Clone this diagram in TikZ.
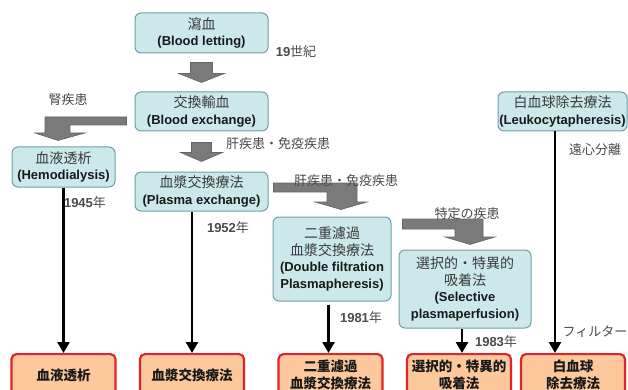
\documentclass[tikz,border=0pt]{standalone}
\usepackage{fontspec}
\setmainfont{Liberation Sans}
\newfontfamily\jp{Noto Sans CJK JP}
\usetikzlibrary{arrows.meta,calc}
\definecolor{boxfill}{HTML}{CCE8EB}
\definecolor{boxedge}{HTML}{6E9FA6}
\definecolor{orgfill}{HTML}{FCC89C}
\definecolor{orgedge}{HTML}{E2232A}
\definecolor{lblgray}{HTML}{4A4A4A}
\definecolor{jpgray}{HTML}{3A3A3A}
\definecolor{blkgray}{HTML}{7A7A7A}
\definecolor{blkedge}{HTML}{666666}
\tikzset{
 bluebox/.style={draw=boxedge, fill=boxfill, rounded corners=6pt, line width=1pt, align=center, inner sep=1pt, text=black!90, font=\fontsize{13}{16.5}\selectfont},
 orangebox/.style={draw=orgedge, fill=orgfill, rounded corners=5pt, line width=2.2pt, align=center, minimum width=104pt, minimum height=42pt, anchor=north, text=black!90, font=\jp\bfseries\fontsize{13.5}{16.5}\selectfont},
 lbl/.style={text=lblgray, font=\fontsize{13}{15}\selectfont, inner sep=0pt},
 arr/.style={line width=2.6pt, -{Triangle[width=12pt,length=11pt]}},
 blk/.style={fill=blkgray, draw=blkedge, line width=0.6pt},
}
\newcommand{\jt}[1]{{\jp\color{jpgray}\fontsize{14}{16.5}\selectfont #1}}
\begin{document}
\begin{tikzpicture}[x=1pt,y=-1pt]
\useasboundingbox (0,0) rectangle (628,390);
\clip (0,0) rectangle (628,390);

% blue boxes
\node[bluebox, minimum width=133pt, minimum height=40pt] (bl) at (201.5,33) {\jt{瀉血}\\\textbf{(Blood letting)}};
\node[bluebox, minimum width=133pt, minimum height=39pt] (be) at (201.5,111.5) {\jt{交換輸血}\\\textbf{(Blood exchange)}};
\node[bluebox, minimum width=103pt, minimum height=40pt] (hd) at (63.5,167) {\jt{血液透析}\\\textbf{(Hemodialysis)}};
\node[bluebox, minimum width=133pt, minimum height=39pt] (pe) at (201.5,191.5) {\jt{血漿交換療法}\\\textbf{(Plasma exchange)}};
\node[bluebox, minimum width=118pt, minimum height=84pt] (df) at (332,259) {\jt{二重濾過}\\\jt{血漿交換療法}\\\textbf{(Double filtration}\\\textbf{Plasmapheresis)}};
\node[bluebox, minimum width=132pt, minimum height=78pt] (sp) at (465,289) {\jt{選択的・特異的}\\\jt{吸着法}\\\textbf{(Selective}\\\textbf{plasmaperfusion)}};
\node[bluebox, minimum width=129pt, minimum height=39pt] (lk) at (562.5,111.5) {\jt{白血球除去療法}\\\textbf{(Leukocytapheresis)}};

% orange boxes
\node[orangebox] (o1) at (63.5,353) {血液透析};
\node[orangebox] (o2) at (192,353) {血漿交換療法};
\node[orangebox] (o3) at (330.5,353) {二重濾過\\血漿交換療法};
\node[orangebox] (o4) at (459,353) {選択的・特異的\\吸着法};
\node[orangebox] (o5) at (573,353) {白血球\\除去療法};

% block arrows
\fill[blk] ($(bl.south)+(-11,9)$) -- ++(22,0) -- ++(0,11) -- ++(12,0) -- ($(be.north)+(0,-9)$) -- ($(bl.south)+(-23,20)$) -- ++(12,0) -- cycle;
\fill[blk] ($(be.south)+(-10,11)$) -- ++(20,0) -- ++(0,10) -- ++(11,0) -- ($(pe.north)+(0,-10)$) -- ($(be.south)+(-21,21)$) -- ++(11,0) -- cycle;
\fill[blk] ($(be.west)+(-8,5.5)$) -- (45,117) -- (45,133) -- (35,133) -- ($(hd.north)+(-5.5,-6)$) -- (85,133) -- (70,133) -- (70,125) -- ($(be.west)+(-8,13.5)$) -- cycle;
\fill[blk] ($(pe.east)+(5,-8.5)$) -- (357,183) -- (357,202) -- (367,202) -- ($(df.north)+(9,-7)$) -- (315,202) -- (327,202) -- (327,192) -- ($(pe.east)+(5,0.5)$) -- cycle;
\fill[blk] ($(df.east)+(11,-40)$) -- (483,219) -- (483,237) -- (495,237) -- ($(sp.north)+(5,-5)$) -- (445,237) -- (455,237) -- (455,229) -- ($(df.east)+(11,-30)$) -- cycle;

% line arrows
\draw[arr] (hd.south) -- (o1.north);
\draw[arr] (o2.north |- pe.south) -- (o2.north);
\coordinate (a3) at ([xshift=-2pt]o3.north);
\draw[arr] ([yshift=-3pt]a3 |- df.south) -- (a3);
\coordinate (a4) at ([xshift=3pt]o4.north);
\draw[arr] (a4 |- sp.south) -- (a4);
\coordinate (a5) at ([xshift=-18pt]o5.north);
\draw[arr] (a5 |- lk.south) -- (a5);

% labels
\node[lbl] (t19) at (296,52) {\textbf{19}{\jp 世紀}};
\node[lbl] (tk) at (68,100) {\jp 腎疾患};
\node[lbl] (tl1) at (278,144) {\jp 肝疾患・免疫疾患};
\node[lbl] (tl2) at (346,181) {\jp 肝疾患・免疫疾患};
\node[lbl] (tt) at (467,214) {\jp 特定の疾患};
\node[lbl] (y45) at (85,203) {\textbf{1945}{\jp 年}};
\node[lbl] (y52) at (228,228) {\textbf{1952}{\jp 年}};
\node[lbl] (y81) at (361,318) {\textbf{1981}{\jp 年}};
\node[lbl] (y83) at (496,342) {\textbf{1983}{\jp 年}};
\node[lbl] (ts) at (595,150) {\jp 遠心分離};
\node[lbl] (tf) at (595,332) {\jp フィルター};
\end{tikzpicture}
\end{document}
